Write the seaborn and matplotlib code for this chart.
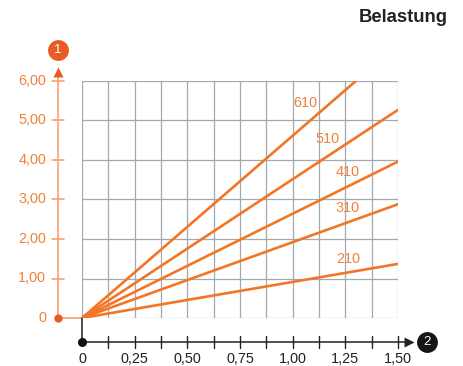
import numpy as np
import pandas as pd
import matplotlib
matplotlib.use("Agg")
import matplotlib.pyplot as plt
import seaborn as sns

# Load curves: each type is a straight line from the origin
types = ["210", "310", "410", "510", "610"]
x_end = [1.50, 1.50, 1.50, 1.50, 1.30]
y_end = [1.37, 2.88, 3.96, 5.27, 6.00]

# Curve label anchor points (data units)
label_x = [1.265, 1.26, 1.26, 1.163, 1.06]
label_y = [1.49, 2.78, 3.70, 4.53, 5.44]

x_ticks = [0, 0.25, 0.50, 0.75, 1.00, 1.25, 1.50]
x_tick_labels = ["0", "0,25", "0,50", "0,75", "1,00", "1,25", "1,50"]
y_ticks = [0, 1, 2, 3, 4, 5, 6]
y_tick_labels = ["0", "1,00", "2,00", "3,00", "4,00", "5,00", "6,00"]

ORANGE = "#f37526"
ORANGE_TXT = "#f2803a"
ORANGE_AXIS = "#f59a62"
CIRCLE_OR = "#ea5b24"
GRID = "#a3a9ae"
FS = 10.4

sns.set_style("white")
plt.rcParams["font.family"] = ["Liberation Sans", "DejaVu Sans"]

W, H = 464, 366
fig = plt.figure(figsize=(W / 100, H / 100), dpi=100)
L, R, B, T = 82, 398, 318, 81
ax = fig.add_axes([L / W, 1 - B / H, (R - L) / W, (B - T) / H])
ax.set_xlim(0, 1.5)
ax.set_ylim(0, 6)
for s in ax.spines.values():
    s.set_visible(False)
ax.set_xticks([])
ax.set_yticks([])

sx = (R - L) / 1.5
sy = (B - T) / 6.0


def dx(px):
    return (px - L) / sx


def dy(py):
    return (B - py) / sy


# Grid
for gx in np.arange(0, 1.5001, 0.125):
    ax.plot([gx, gx], [0, 6], color=GRID, lw=0.9, zorder=1)
for gy in range(0, 7):
    ax.plot([0, 1.5], [gy, gy], color=GRID, lw=0.9, zorder=1)

# Load lines
rows = []
for t, xe, ye in zip(types, x_end, y_end):
    rows.append({"Typ": t, "x": 0.0, "y": 0.0})
    rows.append({"Typ": t, "x": xe, "y": ye})
df = pd.DataFrame(rows)
sns.lineplot(data=df, x="x", y="y", hue="Typ", units="Typ", estimator=None,
             palette=[ORANGE] * len(types), legend=False, sort=False,
             lw=1.9, ax=ax, zorder=3)
ax.set_xlabel("")
ax.set_ylabel("")
for t, lx, ly in zip(types, label_x, label_y):
    ax.text(lx, ly, t, color=ORANGE_TXT, fontsize=FS, ha="center", va="center", zorder=4)

# Y axis (orange) with arrow and marker 1
yax = dx(58)
ax.plot([yax, yax], [0, dy(76)], color=ORANGE_AXIS, lw=1.1, clip_on=False)
ax.plot([yax, 0], [0, 0], color=ORANGE_AXIS, lw=1.1, clip_on=False)
ax.plot([yax], [dy(72)], marker="^", ms=7, color=CIRCLE_OR, mec="none", clip_on=False)
ax.plot([yax], [0], marker="o", ms=6, color=CIRCLE_OR, mec="none", clip_on=False, zorder=5)
for yt, lab in zip(y_ticks, y_tick_labels):
    if yt > 0:
        ax.plot([dx(52), dx(64)], [yt, yt], color=ORANGE_AXIS, lw=1.1, clip_on=False)
    ax.text(dx(46), yt, lab, color=ORANGE_TXT, fontsize=FS, ha="right", va="center")
ax.plot([yax], [dy(50)], marker="o", ms=15, color=CIRCLE_OR, mec="none", clip_on=False)
ax.text(yax, dy(50), "1", color="white", fontsize=9.5, ha="center", va="center")

# X axis (black) with arrow and marker 2
xay = dy(342)
ax.plot([0, 0], [0, xay], color="#222222", lw=1.1, clip_on=False)
ax.plot([0, dx(406)], [xay, xay], color="#222222", lw=1.1, clip_on=False)
ax.plot([dx(409)], [xay], marker=">", ms=7, color="#222222", mec="none", clip_on=False)
ax.plot([0], [xay], marker="o", ms=6.5, color="#111111", mec="none", clip_on=False, zorder=5)
for gx in np.arange(0.125, 1.5001, 0.125):
    ax.plot([gx, gx], [dy(336), dy(348)], color="#222222", lw=1.0, clip_on=False)
for xt, lab in zip(x_ticks, x_tick_labels):
    ax.text(xt, dy(359), lab, color="#222222", fontsize=FS, ha="center", va="center")
ax.plot([dx(427)], [xay], marker="o", ms=15, color="#151515", mec="none", clip_on=False)
ax.text(dx(427), xay, "2", color="white", fontsize=9.5, ha="center", va="center")

fig.text(448 / W, 1 - 17 / H, "Belastung", fontsize=13.3, fontweight="bold",
         color="#222222", ha="right", va="center")

fig.savefig("out.png", dpi=100)
